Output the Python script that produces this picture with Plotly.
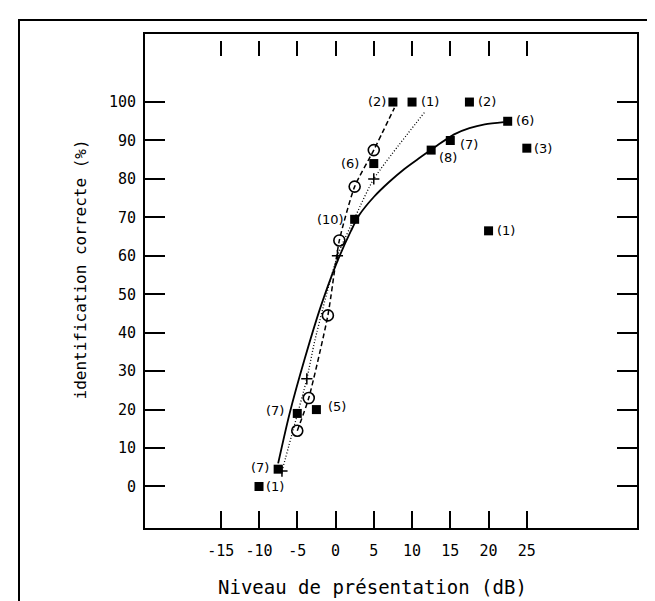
import plotly.graph_objects as go

# ---- data ----
# filled squares with their "(n)" counts
sq_x = [-10, -7.5, -5, -2.5, 2.5, 5, 7.5, 10, 12.5, 15, 17.5, 22.5, 25, 20]
sq_y = [0, 4.5, 19, 20, 69.5, 84, 100, 100, 87.5, 90, 100, 95, 88, 66.5]
sq_n = ["(1)", "(7)", "(7)", "(5)", "(10)", "(6)", "(2)", "(1)", "(8)", "(7)", "(2)", "(6)", "(3)", "(1)"]

# open circles
ci_x = [-5, -3.5, -1, 0.5, 2.5, 5]
ci_y = [14.5, 23, 44.5, 64, 78, 87.5]

# plus markers
pl_x = [-7, -3.75, 0.25, 5]
pl_y = [4, 28, 60, 80]

# solid fitted curve (squares)
solid_x = [-7.5, -6, -4, -2, 0, 2, 3.1, 5, 7, 9, 11, 13, 15.5, 17.5, 19.5, 22]
solid_y = [6, 19, 33.4, 46.4, 57.4, 66.4, 70.6, 75.3, 79.2, 82.6, 85.5, 88.3, 91.6, 93.2, 94.2, 94.8]

# dashed curve (circles)
dash_x = [-5, -3.5, -1, 0.5, 2.5, 5, 7.7]
dash_y = [14.5, 23, 44.5, 64, 78, 87.5, 98.5]

# dotted curve (plus)
dot_x = [-7, -5.5, -3.75, -2.7, 0.25, 2.7, 5, 11.7]
dot_y = [4, 15, 28, 38, 60, 70.7, 80, 97.5]

x_ticks = [-15, -10, -5, 0, 5, 10, 15, 20, 25]
x_ticktext = ["-15", "-10", "-5", "0", "5", "10", "15", "20", "25"]
y_ticks = [0, 10, 20, 30, 40, 50, 60, 70, 80, 90, 100]
y_ticktext = ["0", "10", "20", "30", "40", "50", "60", "70", "80", "90", "100"]

x_title = "Niveau de présentation (dB)"
y_title = "identification correcte (%)"

# label placement (style): side and pixel shifts
lab_anchor = ["left", "right", "right", "left", "right", "right", "right", "left", "left", "left", "left", "left", "left", "left"]
lab_dx = [5, -7, -11, 10, -9, -13, -5, 7, 6, 8, 7, 6, 5, 6]
lab_dy = [0, 2, 3, 3, 0, 0, 1, 1, -7, -4, 1, 1, 0, 0]

XR = [-24.9, 39.4]
YR = [-10.8, 117.7]

fig = go.Figure()

fig.add_trace(go.Scatter(x=solid_x, y=solid_y, mode="lines",
                         line=dict(color="black", width=1.8, shape="spline", smoothing=0.8), hoverinfo="skip"))
fig.add_trace(go.Scatter(x=dash_x, y=dash_y, mode="lines",
                         line=dict(color="black", width=1.5, dash="5px,3px", shape="spline", smoothing=0.6), hoverinfo="skip"))
fig.add_trace(go.Scatter(x=dot_x, y=dot_y, mode="lines",
                         line=dict(color="black", width=1.3, dash="1px,2px", shape="spline", smoothing=0.6), hoverinfo="skip"))

fig.add_trace(go.Scatter(x=ci_x, y=ci_y, mode="markers",
                         marker=dict(symbol="circle-open", size=11, color="black", line=dict(width=1.6))))
fig.add_trace(go.Scatter(x=sq_x, y=sq_y, mode="markers",
                         marker=dict(symbol="square", size=9, color="black")))
fig.add_trace(go.Scatter(x=pl_x, y=pl_y, mode="markers",
                         marker=dict(symbol="cross-thin", size=8, color="black", line=dict(width=1.5, color="black"))))

# trace for the free top tick axis
fig.add_trace(go.Scatter(x=[None], y=[None], xaxis="x2", yaxis="y", mode="markers", hoverinfo="skip"))

for xv, yv, t, a, dx, dy in zip(sq_x, sq_y, sq_n, lab_anchor, lab_dx, lab_dy):
    fig.add_annotation(x=xv, y=yv, text=t, showarrow=False, xanchor=a, yanchor="middle",
                       xshift=dx, yshift=dy, font=dict(family="DejaVu Sans", size=13, color="black"))

fig.add_annotation(xref="paper", yref="paper", x=(364.5 - 137) / 492, y=(520 - 579) / 494,
                   text=x_title, showarrow=False, xanchor="center", yanchor="middle",
                   font=dict(family="DejaVu Sans Mono", size=19, color="black"))
fig.add_annotation(xref="paper", yref="paper", x=(72 - 137) / 492, y=(520 - 261.5) / 494,
                   text=y_title, showarrow=False, textangle=-90, xanchor="center", yanchor="middle",
                   font=dict(family="DejaVu Sans Mono", size=16, color="black"))

# outer frame
fig.add_shape(type="rect", xref="paper", yref="paper",
              x0=(11 - 137) / 492, x1=(680 - 137) / 492,
              y0=(520 - 640) / 494, y1=(520 - 12) / 494,
              line=dict(color="black", width=2))

fig.update_layout(
    width=655, height=601,
    margin=dict(l=137, r=26, t=26, b=81),
    paper_bgcolor="white", plot_bgcolor="white",
    showlegend=False,
    xaxis=dict(range=XR, tickmode="array", tickvals=x_ticks, ticktext=x_ticktext,
               ticks="inside", ticklen=17, tickwidth=1.6, tickcolor="black",
               showline=True, linecolor="black", linewidth=2, mirror=True,
               showgrid=False, zeroline=False, ticklabelstandoff=8,
               tickfont=dict(family="DejaVu Sans Mono", size=15, color="black")),
    xaxis2=dict(range=XR, overlaying="x", side="top", anchor="free", position=(520 - 48) / 494,
                tickmode="array", tickvals=x_ticks, ticks="outside", ticklen=15, tickwidth=1.6,
                tickcolor="black", showline=False, showticklabels=False, showgrid=False, zeroline=False),
    yaxis=dict(range=YR, tickmode="array", tickvals=y_ticks, ticktext=y_ticktext,
               ticks="inside", ticklen=20, tickwidth=1.6, tickcolor="black",
               showline=True, linecolor="black", linewidth=2, mirror="ticks",
               showgrid=False, zeroline=False, ticklabelstandoff=4,
               tickfont=dict(family="DejaVu Sans Mono", size=15, color="black")),
)

fig.write_html("out.html")
